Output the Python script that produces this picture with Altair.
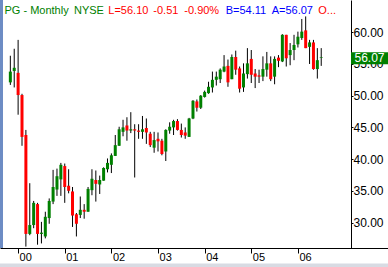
import altair as alt
import pandas as pd

# ---------------- data ----------------
months = [str(p) for p in pd.period_range("1999-11", "2006-07", freq="M")]
opens = [52.1, 53.9,
         53.6, 50.1, 43.8, 28.2, 29.6, 32.9, 28.2, 27.8, 30.7, 33.3, 35.2, 36.8,
         38.9, 35.8, 34.9, 31.3, 31.2, 32.0, 31.7, 35.1, 36.7, 36.0, 36.6, 38.4,
         39.1, 40.5, 42.1, 44.3, 45.3, 44.5, 44.7, 44.5, 44.3, 44.9, 44.0, 41.8,
         43.2, 42.9, 41.2, 44.5, 45.0, 46.0, 44.6, 44.2, 43.5, 46.4, 49.1, 48.1,
         49.8, 50.4, 51.3, 52.5, 52.6, 53.8, 54.7, 52.6, 56.1, 54.3, 51.3, 53.4,
         55.8, 53.5, 53.2, 53.0, 54.1, 55.1, 53.0, 56.0, 55.4, 59.6, 56.4, 57.2,
         58.1, 59.1, 60.3, 57.7, 58.4, 54.2, 56.0]
highs = [56.3, 57.4,
         58.8, 50.3, 44.6, 36.2, 33.4, 33.1, 30.1, 31.7, 33.8, 38.3, 38.5, 39.4,
         39.3, 38.4, 35.6, 31.5, 34.1, 32.9, 35.6, 38.4, 38.2, 37.4, 38.7, 40.1,
         40.9, 43.8, 45.1, 46.2, 46.6, 47.4, 45.5, 45.5, 46.8, 46.4, 44.3, 44.3,
         44.2, 43.2, 44.7, 45.8, 46.2, 46.3, 45.6, 45.0, 46.5, 49.3, 49.4, 50.1,
         50.8, 52.2, 53.8, 53.8, 54.3, 56.4, 55.7, 56.5, 57.1, 54.6, 55.1, 57.5,
         57.2, 54.2, 54.1, 56.2, 56.9, 56.2, 56.2, 56.4, 59.7, 59.6, 58.3, 59.6,
         60.1, 62.1, 62.5, 58.8, 58.8, 57.5, 57.5]
lows = [51.7, 51.3,
        47.0, 42.1, 26.2, 28.0, 29.1, 26.5, 26.7, 27.5, 29.8, 32.9, 34.2, 34.2,
        33.1, 34.6, 29.3, 27.8, 30.7, 30.6, 31.7, 34.3, 33.3, 34.5, 36.6, 37.9,
        37.8, 40.5, 42.1, 43.6, 42.9, 44.1, 37.1, 43.2, 43.2, 42.4, 41.9, 41.0,
        41.2, 40.6, 39.7, 44.0, 43.8, 44.5, 43.4, 43.2, 43.5, 46.3, 47.5, 47.9,
        49.7, 50.3, 50.5, 51.6, 52.0, 53.7, 51.4, 52.6, 53.3, 50.5, 50.6, 52.7,
        52.0, 51.2, 52.0, 52.3, 53.0, 52.3, 51.8, 54.5, 55.3, 54.6, 54.8, 55.6,
        57.6, 58.8, 57.5, 55.0, 54.1, 52.7, 54.7]
closes = [53.8, 54.4,
          50.1, 43.5, 28.2, 29.6, 33.1, 28.2, 28.4, 30.9, 33.4, 35.6, 37.3, 39.1,
          35.6, 35.0, 31.1, 29.8, 32.0, 31.7, 35.3, 36.9, 36.1, 36.7, 38.6, 39.4,
          40.6, 42.2, 44.7, 45.0, 44.5, 44.7, 44.5, 44.3, 44.7, 44.2, 42.2, 43.0,
          42.8, 40.8, 44.6, 45.1, 46.0, 44.6, 43.8, 43.7, 46.4, 49.2, 48.1, 50.0,
          50.6, 51.4, 52.5, 53.0, 54.1, 54.6, 52.1, 56.1, 54.1, 51.1, 53.5, 55.1,
          53.3, 53.0, 53.0, 54.2, 55.1, 52.6, 55.8, 55.5, 59.6, 55.9, 57.2, 58.0,
          59.3, 60.1, 57.5, 58.4, 54.2, 55.6, 56.1]

year_labels = ["00", "01", "02", "03", "04", "05", "06"]
price_ticks = [30, 35, 40, 45, 50, 55, 60]
last_ask = 56.07
header_texts = ["PG - Monthly", "NYSE", "L=56.10", "-0.51", "-0.90%",
                "B=54.11", "A=56.07", "O..."]

# ---------------- build table ----------------
rows = []
for mon, o, h, l, c in zip(months, opens, highs, lows, closes):
    yr, mo = mon.split("-")
    m = (int(yr) - 2000) * 12 + int(mo) - 1
    rows.append({"month": mon, "m": m, "open": o, "high": h, "low": l,
                 "close": c, "dir": "up" if c >= o else "down"})
df = pd.DataFrame(rows)

W, H = 351, 248
xscale = alt.Scale(domain=[-3.375, 84.375], nice=False, zero=False)
yscale = alt.Scale(domain=[25.98, 65.09], nice=False, zero=False)

label_expr = "[" + ",".join("'%s'" % s for s in year_labels) + "][datum.value / 12]"
x_axis = alt.Axis(values=[12 * i for i in range(len(year_labels))],
                  labelExpr=label_expr, orient="bottom", grid=False,
                  domainColor="black", tickColor="black", tickSize=5,
                  labelAlign="left", labelOffset=1, labelBaseline="top",
                  labelPadding=-2, labelFontSize=11, labelColor="black",
                  labelFont="Liberation Sans", labelFlush=False, title=None)
y_axis = alt.Axis(values=price_ticks, format=".2f", orient="right", grid=False,
                  domainColor="black", tickColor="black", tickSize=2,
                  labelPadding=0, labelFontSize=12, labelColor="black",
                  labelFont="Liberation Sans", labelBaseline="middle",
                  labelFlush=False, title=None)

base = alt.Chart(df)
wicks = base.mark_rule(color="black", strokeWidth=1).encode(
    x=alt.X("m:Q", scale=xscale, axis=x_axis),
    y=alt.Y("low:Q", scale=yscale, axis=y_axis),
    y2="high:Q",
)
bodies = base.mark_bar(size=3).encode(
    x=alt.X("m:Q", scale=xscale),
    y=alt.Y("open:Q", scale=yscale),
    y2="close:Q",
    color=alt.Color("dir:N", scale=alt.Scale(domain=["up", "down"],
                                             range=["#008000", "#ff0000"]),
                    legend=None),
)

# decorations
bottom_ext = alt.Chart(pd.DataFrame({"a": [0]})).mark_rule(
    color="black", strokeWidth=1).encode(
    x=alt.value(W), x2=alt.value(388), y=alt.value(H + 0.5))
left_border = alt.Chart(pd.DataFrame({"a": [0]})).mark_rule(
    color="#6d8cc4", strokeWidth=3).encode(
    x=alt.value(1.5), y=alt.value(0), y2=alt.value(H))
bottom_strip = alt.Chart(pd.DataFrame({"a": [0]})).mark_rule(
    color="#d8dbe3", strokeWidth=4).encode(
    x=alt.value(0), x2=alt.value(388), y=alt.value(265.5))

tag_df = pd.DataFrame({"p": [last_ask], "t": ["%.2f" % last_ask]})
tag_box = alt.Chart(tag_df).mark_rule(color="#008000", strokeWidth=12, yOffset=1).encode(
    x=alt.value(W), x2=alt.value(388), y=alt.Y("p:Q", scale=yscale))
tag_text = alt.Chart(tag_df).mark_text(color="white", fontSize=12, font="Liberation Sans",
                                       align="center", baseline="middle", dy=1).encode(
    x=alt.value(369.5), y=alt.Y("p:Q", scale=yscale), text="t:N")

hdr_x = [4.5, 74, 108.3, 153.3, 184.3, 225.7, 271.7, 318.3]
hdr_c = ["#008000", "#008000", "#ff0000", "#ff0000", "#ff0000",
         "#0000ff", "#0000ff", "#ff0000"]
header_layers = []
for txt, xx, cc in zip(header_texts, hdr_x, hdr_c):
    header_layers.append(
        alt.Chart(pd.DataFrame({"t": [txt]})).mark_text(
            align="left", baseline="alphabetic", fontSize=11,
            font="Liberation Sans", color=cc).encode(
            x=alt.value(xx), y=alt.value(14.3), text="t:N"))

chart = alt.layer(wicks, bodies, bottom_ext, left_border, bottom_strip,
                  tag_box, tag_text, *header_layers).properties(
    width=W, height=H,
    autosize=alt.AutoSizeParams(type="none"),
    padding={"left": 0, "top": 0, "right": 37, "bottom": 19},
    background="white",
).configure_view(stroke=None)

chart.save("out.html", embed_options={"renderer": "svg", "actions": False})
